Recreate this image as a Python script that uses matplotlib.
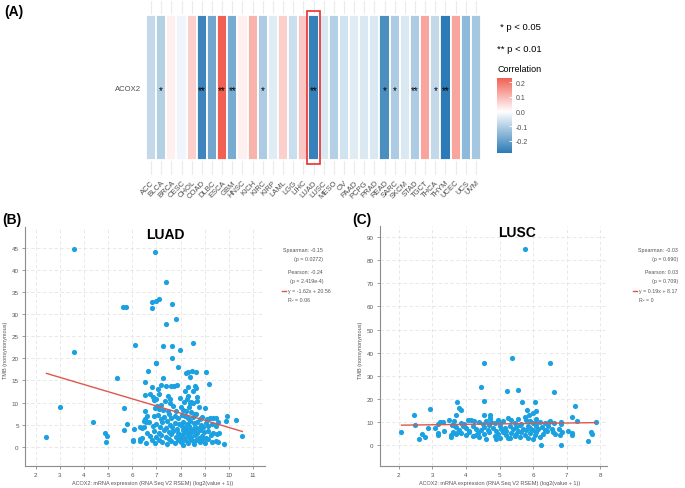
import matplotlib.pyplot as plt
import numpy as np
from matplotlib.colors import LinearSegmentedColormap, Normalize
from matplotlib.patches import Rectangle

plt.rcParams['font.family'] = ['Liberation Sans', 'DejaVu Sans']

# ---- panel A data
cancers = ['ACC', 'BLCA', 'BRCA', 'CESC', 'CHOL', 'COAD', 'DLBC', 'ESCA', 'GBM', 'HNSC',
           'KICH', 'KIRC', 'KIRP', 'LAML', 'LGG', 'LIHC', 'LUAD', 'LUSC', 'MESO', 'OV',
           'PAAD', 'PCPG', 'PRAD', 'READ', 'SARC', 'SKCM', 'STAD', 'TGCT', 'THCA', 'THYM',
           'UCEC', 'UCS', 'UVM']
corr = [-0.08, -0.10, 0.02, -0.02, 0.07, -0.26, -0.19, 0.229, -0.18, 0.02,
        0.11, -0.11, -0.04, 0.07, -0.07, 0.08, -0.27, -0.05, -0.10, -0.06,
        -0.04, -0.05, -0.05, -0.24, -0.11, -0.05, -0.11, 0.13, -0.08, -0.284,
        0.13, -0.15, -0.12]
sig = ['', '*', '', '', '', '**', '', '**', '**', '',
       '', '*', '', '', '', '', '**', '', '', '',
       '', '', '', '*', '*', '', '**', '', '*', '**',
       '', '', '']
highlight = 'LUAD'

# ---- panel B data (LUAD)
luad_x = [2.44, 2.99, 3.57, 3.57, 4.35, 4.86, 4.95, 4.90, 5.37, 5.62, 5.75, 5.67, 5.67, 5.78,
          6.09, 6.07, 6.03, 6.03, 6.33, 6.47, 6.53, 6.53, 6.53, 6.53, 6.58, 6.64, 6.82, 6.83,
          6.99, 7.10, 6.94, 6.97, 7.00, 7.38, 7.41, 7.27, 7.63, 7.80, 7.66, 7.66, 7.96, 7.89,
          8.51, 8.24, 8.32, 8.49, 8.64, 9.04, 9.18, 9.94, 10.31, 9.90, 10.56, 9.78,
          8.39, 7.27, 7.20, 7.41, 7.62, 7.73, 7.87, 8.31, 8.61, 8.64, 6.82, 7.07, 8.17, 8.51,
          6.72, 6.86, 6.97, 6.89, 7.48, 7.55, 7.11, 7.96, 8.68, 8.31, 8.42, 7.35, 8.25, 8.70,
          7.02, 7.20, 6.93, 7.11, 7.27, 7.48, 7.69, 7.80, 8.03, 8.10, 8.24, 8.35, 8.45, 8.76,
          9.00, 8.60, 8.15, 8.37, 7.55, 8.50,
          6.60, 6.90, 7.05, 7.30, 7.50, 7.60, 7.75, 7.90, 8.05, 8.20, 8.30, 8.50, 8.65, 8.80,
          8.90, 9.10, 9.20, 9.34, 9.48, 7.20, 7.45,
          6.50, 6.70, 6.85, 7.00, 7.15, 7.25, 7.40, 7.55, 7.65, 7.75, 7.85, 7.95, 8.05, 8.10,
          8.20, 8.25, 8.35, 8.40, 8.45, 8.55, 8.60, 8.70, 8.75, 8.85, 8.95, 9.05, 9.15, 9.30,
          9.45, 9.55, 6.40, 6.30,
          6.40, 6.60, 6.75, 6.90, 7.00, 7.10, 7.20, 7.30, 7.40, 7.50, 7.60, 7.70, 7.80, 7.90,
          8.00, 8.08, 8.15, 8.22, 8.30, 8.38, 8.45, 8.52, 8.60, 8.68, 8.75, 8.82, 8.90, 8.98,
          9.05, 9.15, 9.25, 9.35, 9.50, 9.60, 8.35, 8.60, 8.10, 7.95,
          6.30, 6.55, 6.80, 6.95, 7.10, 7.25, 7.45, 7.60, 7.75, 7.90, 8.00, 8.10, 8.20, 8.30,
          8.40, 8.50, 8.55, 8.65, 8.80, 8.90, 9.00, 9.15, 9.30, 9.45, 9.55, 8.00, 7.50]
luad_y = [2.3, 9.1, 44.8, 21.5, 5.7, 3.1, 2.5, 1.0, 15.5, 31.6, 31.6, 8.8, 3.7, 5.1,
          23.0, 4.0, 1.6, 1.2, 1.7, 4.4, 14.7, 11.8, 8.1, 6.3, 5.7, 17.2, 31.5, 32.8,
          32.9, 33.5, 44.1, 19.0, 18.9, 37.4, 27.8, 22.9, 32.3, 29.0, 22.9, 20.0, 21.8, 18.1,
          23.4, 16.6, 17.0, 17.1, 16.9, 17.0, 14.1, 7.0, 6.0, 5.8, 2.5, 0.7,
          15.9, 15.6, 13.9, 13.8, 13.8, 13.8, 13.9, 13.5, 13.8, 13.3, 13.5, 13.1, 12.6, 12.7,
          11.9, 11.2, 10.8, 10.6, 11.6, 10.8, 11.9, 11.0, 11.2, 11.4, 10.2, 10.3, 10.7, 10.3,
          9.2, 9.5, 8.7, 8.6, 8.4, 8.1, 9.3, 8.2, 8.9, 8.4, 8.2, 8.9, 7.8, 9.1,
          8.7, 7.5, 10.2, 10.0, 9.9, 9.8,
          7.0, 6.9, 7.2, 6.8, 7.3, 6.5, 7.0, 6.6, 7.2, 6.9, 6.4, 6.7, 7.3, 6.2,
          6.8, 6.3, 6.4, 6.4, 6.4, 6.2, 5.9,
          5.8, 5.5, 4.7, 5.2, 4.5, 5.6, 4.2, 5.0, 4.4, 5.4, 4.1, 5.1, 4.6, 5.7,
          4.3, 5.2, 4.8, 5.9, 4.0, 5.3, 4.5, 5.6, 4.2, 5.0, 4.4, 5.4, 4.6, 5.2,
          4.8, 5.5, 4.2, 4.5,
          2.0, 3.2, 2.5, 3.5, 2.2, 3.0, 2.6, 3.8, 2.1, 3.3, 2.8, 3.6, 2.3, 3.1,
          2.7, 3.7, 2.0, 3.4, 2.5, 3.0, 2.2, 3.6, 2.7, 3.2, 2.0, 3.8, 2.5, 3.3,
          2.0, 3.5, 2.6, 3.1, 2.8, 3.0, 3.9, 3.9, 2.9, 2.3,
          1.2, 0.9, 1.5, 0.9, 1.6, 1.0, 0.7, 1.4, 0.9, 1.6, 1.1, 0.5, 1.5, 0.9,
          1.8, 1.2, 0.6, 1.6, 1.0, 1.5, 0.8, 1.8, 1.1, 1.4, 1.0, 1.9, 1.8]
luad_fit = (-1.62, 20.56)
luad_stats = ['Spearman: -0.15', '(p = 0.0272)', 'Pearson: -0.24', '(p = 2.419e-4)',
              'y = -1.62x + 20.56', 'R² = 0.06']

# ---- panel C data (LUSC)
lusc_x = [5.75, 4.53, 5.36, 6.51, 4.46, 5.21, 5.55, 6.63, 4.55, 3.73, 5.66, 6.05, 7.26, 3.78,
          3.84, 2.93, 2.44, 3.70, 4.55, 4.73, 4.73, 5.81, 6.09, 5.89, 5.99, 5.76, 7.16, 7.32,
          7.88, 6.84, 6.84, 6.47, 2.48, 2.08, 2.59, 2.68, 2.77, 2.86, 3.09, 3.16, 3.24, 3.31,
          3.17, 3.18, 3.34, 3.49, 3.54, 3.55, 3.59, 3.66, 6.24, 6.82, 7.64, 7.73, 7.76, 7.03,
          7.16, 7.17, 6.76, 6.86, 6.80,
          3.65, 3.85, 4.05, 4.15, 4.25, 4.40, 4.60, 4.75, 4.85, 4.95, 5.10, 5.25, 5.35, 5.45,
          5.55, 5.65, 5.80, 5.90, 6.00, 6.10, 6.20, 6.35, 6.50, 6.62, 4.50, 5.00, 6.10, 3.95,
          3.70, 3.80, 3.90, 4.00, 4.10, 4.20, 4.30, 4.45, 4.55, 4.65, 4.70, 4.80, 4.90, 5.00,
          5.05, 5.15, 5.20, 5.30, 5.40, 5.50, 5.55, 5.62, 5.70, 5.78, 5.85, 5.92, 6.00, 6.08,
          6.15, 6.25, 6.35, 6.45, 6.55, 6.60, 6.65, 3.75,
          3.60, 3.85, 4.00, 4.10, 4.20, 4.35, 4.40, 4.55, 4.60, 4.70, 4.85, 4.95, 5.00, 5.10,
          5.20, 5.25, 5.35, 5.45, 5.50, 5.60, 5.65, 5.75, 5.85, 5.90, 6.00, 6.05, 6.10, 6.20,
          6.30, 6.40, 5.30, 4.90, 3.70, 4.30]
lusc_y = [85.0, 35.5, 37.7, 35.5, 25.1, 23.3, 24.0, 22.8, 19.2, 18.8, 18.5, 18.5, 16.7, 16.0,
          15.2, 15.6, 13.0, 12.9, 13.1, 13.1, 11.6, 15.0, 14.9, 13.0, 13.7, 12.0, 12.3, 10.5,
          10.0, 10.1, 9.1, 10.1, 8.7, 5.8, 2.5, 4.8, 3.3, 7.2, 7.2, 9.1, 10.1, 10.1,
          5.1, 4.3, 6.2, 11.0, 4.3, 3.3, 8.8, 8.4, 0.0, 0.0, 1.6, 5.5, 4.6, 6.2,
          5.2, 4.3, 6.8, 5.6, 4.4,
          10.5, 9.6, 10.8, 11.0, 10.5, 9.8, 10.2, 10.0, 9.4, 11.0, 10.3, 11.5, 10.6, 9.6,
          11.3, 9.2, 11.0, 10.2, 9.6, 11.2, 10.1, 9.4, 10.2, 9.3, 8.9, 9.5, 9.3, 9.0,
          7.6, 6.5, 8.4, 7.2, 6.2, 8.0, 7.0, 6.3, 7.8, 6.6, 8.5, 7.2, 6.0, 8.1,
          6.8, 7.5, 6.2, 8.3, 6.9, 7.7, 6.1, 8.5, 7.0, 6.4, 8.0, 7.3, 6.3, 8.2,
          6.9, 7.7, 6.4, 8.0, 6.8, 5.5, 4.8, 5.8,
          5.5, 5.0, 4.3, 5.5, 4.0, 5.2, 3.4, 4.6, 2.5, 5.4, 3.8, 4.9, 3.0, 5.6,
          4.2, 3.1, 5.3, 3.7, 4.8, 3.3, 5.5, 4.1, 3.0, 5.2, 2.7, 4.4, 5.8, 3.6,
          4.9, 6.0, 2.8, 2.6, 4.6, 4.4]
lusc_fit = (0.19, 8.17)
lusc_stats = ['Spearman: -0.03', '(p = 0.690)', 'Pearson: 0.03', '(p = 0.709)',
              'y = 0.19x + 8.17', 'R² = 0']

W, H = 685, 489


def fx(px):
    return px / W


def fy(py):
    return 1 - py / H


fig = plt.figure(figsize=(W / 100, H / 100), dpi=100)
fig.patch.set_facecolor('white')

# ================= (A) heatmap
cmap = LinearSegmentedColormap.from_list('bwr_gg', ['#2C7BB6', '#FFFFFF', '#EF3B2C'])
lim = max(abs(min(corr)), abs(max(corr)))
norm = Normalize(-lim, lim)

ax = fig.add_axes([fx(145), fy(175.5), fx(482) - fx(145), (175.5 - 1.5) / H])
xpos = np.arange(1, len(cancers) + 1)
ax.set_xlim(0.4, len(cancers) + 0.6)
ax.set_ylim(0.4, 1.6)
for x in xpos:
    ax.axvline(x, color='#EBEBEB', lw=0.8, zorder=0)
ax.axhline(1, color='#EBEBEB', lw=0.8, zorder=0)
ax.bar(xpos, 1, bottom=0.5, width=1, color=cmap(norm(np.array(corr))),
       edgecolor='white', linewidth=1.3, zorder=2)
for x, s in zip(xpos, sig):
    if s:
        ax.text(x, 0.985, s, ha='center', va='center', fontsize=7, color='black', zorder=3)
hi = cancers.index(highlight) + 1
ax.add_patch(Rectangle((hi - 0.63, 0.47), 1.26, 1.06, fill=False, edgecolor='#E8312F',
                       lw=1.2, zorder=4, clip_on=False))
ax.set_xticks(xpos)
ax.set_xticklabels(cancers, rotation=45, ha='right', rotation_mode='anchor',
                   fontsize=5.5, color='#4D4D4D')
ax.set_yticks([1])
ax.set_yticklabels(['ACOX2'], fontsize=5.5, color='#4D4D4D')
ax.tick_params(length=0, pad=3)
for sp in ax.spines.values():
    sp.set_visible(False)

fig.text(fx(4), fy(12), '(A)', fontsize=10, fontweight='bold', va='center')

# legend for stars and colorbar
fig.text(fx(500), fy(28), '* p < 0.05', fontsize=6.8, va='center')
fig.text(fx(497), fy(50), '** p < 0.01', fontsize=6.8, va='center')
fig.text(fx(497), fy(70), 'Correlation', fontsize=6.5, va='center')
cax = fig.add_axes([fx(497), fy(154), 15 / W, 75 / H])
grad = np.linspace(min(corr), max(corr), 256).reshape(-1, 1)
cax.imshow(grad, cmap=cmap, norm=norm, aspect='auto', origin='lower',
           extent=[0, 1, min(corr), max(corr)])
cax.set_xticks([])
cax.yaxis.tick_right()
cax.set_yticks([-0.2, -0.1, 0.0, 0.1, 0.2])
cax.set_yticklabels(['-0.2', '-0.1', '0.0', '0.1', '0.2'], fontsize=5, color='#4D4D4D')
cax.tick_params(axis='y', direction='in', length=2.5, color='white', width=0.6, pad=3)
for sp in cax.spines.values():
    sp.set_visible(False)


# ================= (B), (C) scatter plots
def scatter_panel(box, xs, ys, fit, title, title_x, xlim, ylim, xticks, yticks,
                  stats, text_right, text_left, xlabel_x, ylabel_x):
    a = fig.add_axes(box)
    a.set_xlim(*xlim)
    a.set_ylim(*ylim)
    a.set_xticks(xticks)
    a.set_yticks(yticks)
    a.grid(True, color='#E4E4E4', lw=0.6, linestyle=(0, (4, 3)))
    a.set_axisbelow(True)
    a.scatter(xs, ys, s=14, color='#1BA1E2', linewidths=0, zorder=3)
    lx = np.array([min(xs), max(xs)])
    a.plot(lx, fit[0] * lx + fit[1], color='#E0564B', lw=1, zorder=4)
    for sp in ['top', 'right']:
        a.spines[sp].set_visible(False)
    for sp in ['left', 'bottom']:
        a.spines[sp].set_color('#8C8C8C')
        a.spines[sp].set_linewidth(0.8)
    a.tick_params(labelsize=4.5, labelcolor='#555555', color='#8C8C8C',
                  length=2.5, width=0.6, pad=2)
    a.text(title_x, 0.972, title, transform=a.transAxes, ha='center', va='center',
           fontsize=10, fontweight='bold')
    ys_txt = [250.7, 259.5, 272.5, 281, 291.8, 300.7]
    for t, yy in zip(stats[:4], ys_txt[:4]):
        fig.text(fx(text_right), fy(yy), t, ha='right', va='center', fontsize=3.8,
                 color='#555555')
    for t, yy in zip(stats[4:], ys_txt[4:]):
        fig.text(fx(text_left), fy(yy), t, ha='left', va='center', fontsize=3.8,
                 color='#555555')
    fig.add_artist(plt.Line2D([fx(text_left - 6.5), fx(text_left - 2)],
                              [fy(ys_txt[4]), fy(ys_txt[4])], color='#E0564B', lw=1))
    fig.text(fx(xlabel_x), fy(484), 'ACOX2: mRNA expression (RNA Seq V2 RSEM) (log2(value + 1))',
             ha='center', va='center', fontsize=4, color='#555555')
    fig.text(fx(ylabel_x), fy(350), 'TMB (nonsynonymous)', ha='center', va='center',
             rotation=90, fontsize=4, color='#555555')
    return a


scatter_panel([fx(25), fy(466.7), 240 / W, 238.4 / H], luad_x, luad_y, luad_fit,
              'LUAD', 0.583, (1.55, 11.5), (-4.3, 49.7), range(2, 12), range(0, 50, 5),
              luad_stats, 323, 288, 153, 6)
scatter_panel([fx(380), fy(466.7), 227 / W, 240 / H], lusc_x, lusc_y, lusc_fit,
              'LUSC', 0.6035, (1.44, 8.2), (-9, 95), range(2, 9), range(0, 100, 10),
              lusc_stats, 678, 639, 500, 361)

fig.text(fx(2), fy(220), '(B)', fontsize=10, fontweight='bold', va='center')
fig.text(fx(352), fy(220), '(C)', fontsize=10, fontweight='bold', va='center')

fig.savefig('out.png', dpi=100, facecolor='white')
